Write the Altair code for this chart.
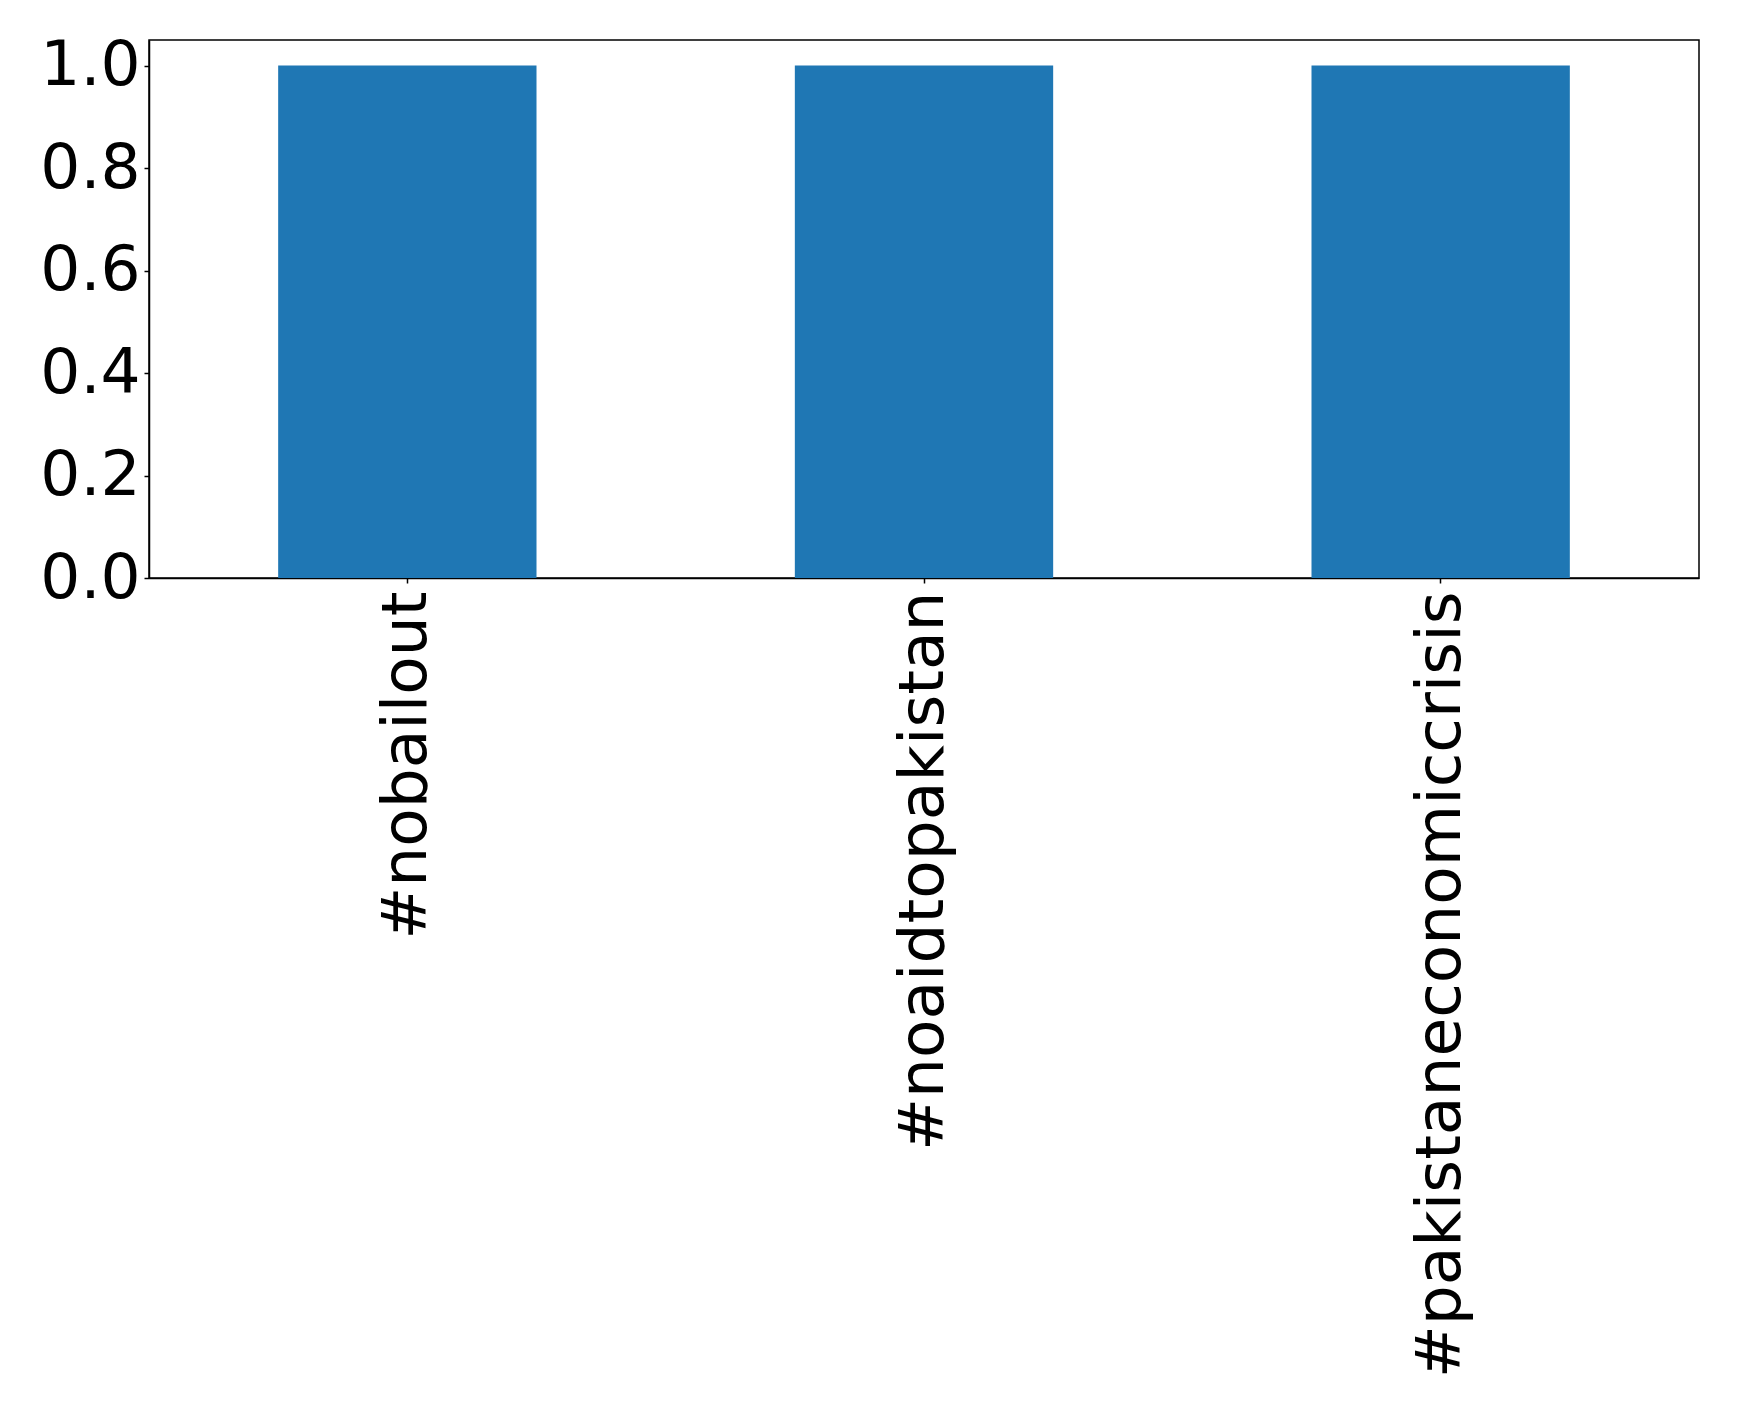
import altair as alt
import pandas as pd

categories = ["#nobailout", "#noaidtopakistan", "#pakistaneconomiccrisis"]
values = [1, 1, 1]
y_ticks = [0.0, 0.2, 0.4, 0.6, 0.8, 1.0]

df = pd.DataFrame({"tag": categories, "count": values})

FONT = "DejaVu Sans"
FS = 63

chart = alt.Chart(df).mark_bar(color="#1f77b4").encode(
    x=alt.X("tag:N", sort=categories, title=None,
            scale=alt.Scale(paddingInner=0.5, paddingOuter=0.25),
            axis=alt.Axis(labelAngle=-90, labelFontSize=FS, labelFont=FONT,
                          labelColor="black", tickColor="black", tickSize=5,
                          tickWidth=1.5, labelPadding=8, domainColor="black",
                          domainWidth=1.5, labelLimit=2000)),
    y=alt.Y("count:Q", title=None,
            scale=alt.Scale(domain=[0, 1.05], nice=False),
            axis=alt.Axis(values=y_ticks, format=".1f", labelFontSize=FS,
                          labelFont=FONT, labelColor="black", tickColor="black",
                          tickSize=5, tickWidth=1.5, labelPadding=4,
                          domainColor="black", domainWidth=1.5, grid=False)),
).properties(
    width=1550, height=538,
    background="white",
    autosize=alt.AutoSizeParams(type="none"),
    padding={"left": 141, "top": 32, "right": 30, "bottom": 820},
).configure_view(
    stroke="black", strokeWidth=1.5
)

chart.save("out.html", embed_options={"renderer": "svg", "actions": False})
